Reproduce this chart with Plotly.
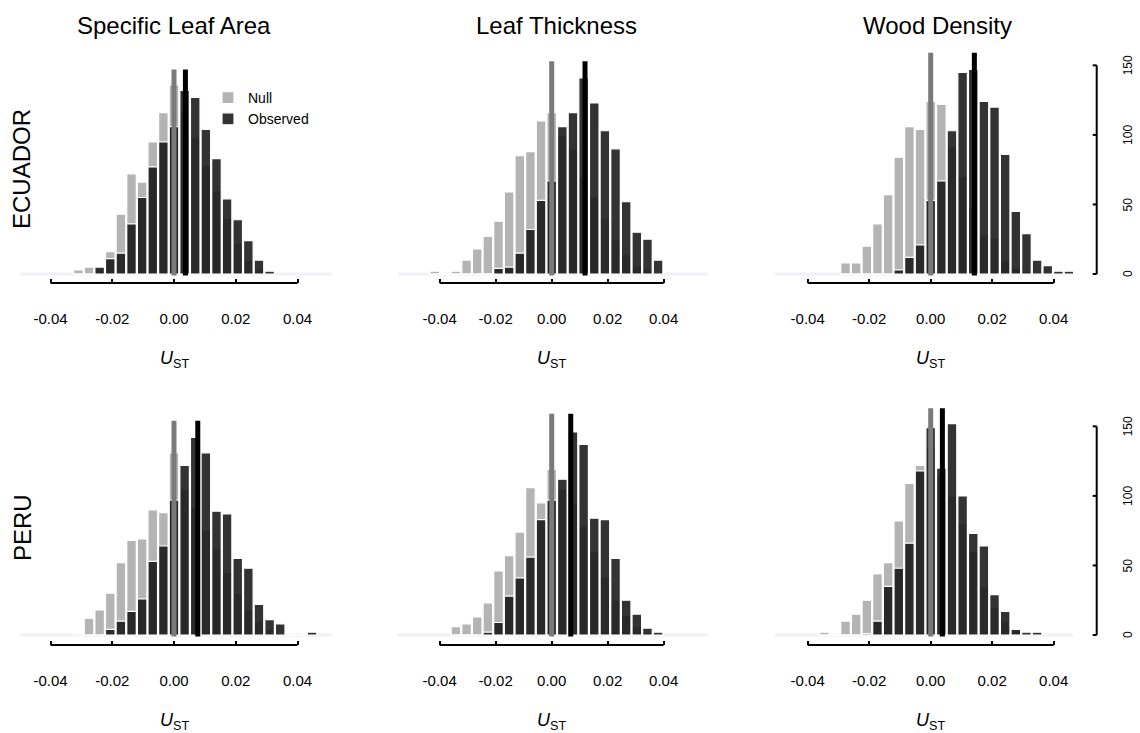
import plotly.graph_objects as go

# ---------------------------------------------------------------------------
# Data: U_ST histograms (counts per bin) for null and observed distributions
# ---------------------------------------------------------------------------
traits = ["Specific Leaf Area", "Leaf Thickness", "Wood Density"]
regions = ["ECUADOR", "PERU"]

# histogram bin width for each trait column (U_ST units); bins are centred on
# multiples of the width, starting at the panel's first bin index
bin_width = [0.00344, 0.0038, 0.00346]
first_bin = [-9, -11, -8, -9, -9, -10]   # panels: ECU SLA, ECU LT, ECU WD, PER SLA, PER LT, PER WD

null_ecu_sla = [3, 5, 4, 16, 43, 72, 66, 95, 116, 136, 118, 98, 78, 60, 40, 22, 10, 4, 1]
obs_ecu_sla = [0, 0, 5, 11, 15, 36, 55, 77, 95, 106, 132, 127, 104, 83, 54, 39, 24, 10, 2]

null_ecu_lt = [2, 0, 2, 10, 18, 27, 38, 59, 85, 88, 110, 116, 100, 90, 70, 56, 40, 25, 14, 6, 3, 1]
obs_ecu_lt = [0, 0, 0, 0, 0, 0, 4, 5, 15, 32, 53, 67, 106, 116, 141, 123, 103, 90, 52, 30, 25, 10]

null_ecu_wd = [8, 8, 20, 36, 57, 84, 106, 104, 124, 122, 92, 70, 48, 28, 26, 10, 4, 2, 0, 0, 0, 0]
obs_ecu_wd = [0, 0, 0, 0, 0, 3, 12, 21, 53, 67, 103, 145, 147, 124, 120, 86, 45, 29, 10, 6, 2, 2]

null_per_sla = [1, 12, 18, 30, 52, 68, 69, 90, 88, 131, 105, 92, 75, 62, 45, 30, 18, 10, 4, 1, 0, 0, 0]
obs_per_sla = [0, 0, 0, 4, 10, 17, 26, 53, 64, 97, 122, 142, 131, 89, 87, 55, 48, 22, 11, 8, 0, 0, 2]

null_per_lt = [6, 8, 13, 23, 46, 57, 74, 106, 95, 119, 105, 95, 78, 60, 42, 25, 14, 6, 2, 1]
obs_per_lt = [0, 0, 0, 2, 9, 28, 41, 56, 83, 97, 112, 146, 137, 84, 83, 55, 25, 15, 5, 2]

null_per_wd = [2, 0, 10, 15, 25, 44, 52, 82, 109, 122, 135, 115, 100, 80, 60, 35, 20, 10, 4, 1, 0]
obs_per_wd = [0, 0, 0, 0, 1, 10, 35, 48, 66, 118, 149, 120, 152, 100, 73, 64, 29, 17, 4, 2, 2]

null_counts = [null_ecu_sla, null_ecu_lt, null_ecu_wd, null_per_sla, null_per_lt, null_per_wd]
obs_counts = [obs_ecu_sla, obs_ecu_lt, obs_ecu_wd, obs_per_sla, obs_per_lt, obs_per_wd]

# mean U_ST of null and observed distributions, and reference-line heights
null_mean = [0.0, 0.0, 0.0, 0.0, 0.0, 0.0]
obs_mean = [0.0037, 0.0119, 0.0142, 0.0077, 0.0068, 0.0038]
line_top = [147, 153, 159, 154, 159, 163]

x_ticks = [-0.04, -0.02, 0.0, 0.02, 0.04]
x_tick_text = ["-0.04", "-0.02", "0.00", "0.02", "0.04"]
y_ticks = [0, 50, 100, 150]
y_tick_text = ["0", "50", "100", "150"]

# ---------------------------------------------------------------------------
# Page geometry (pixels)
# ---------------------------------------------------------------------------
W, H = 1140, 733
col_zero = [174.0, 551.7, 930.7]        # x pixel of U_ST = 0
col_ppu = [3087.5, 2800.0, 3075.0]      # pixels per U_ST unit
col_left = [20.0, 398.0, 775.0]
col_right = [332.0, 708.0, 1073.0]
row_zero = [274.0, 635.0]               # y pixel of count = 0
row_axis = [283.0, 645.0]               # y pixel of the x-axis line
row_top = [38.0, 398.0]
ppc = 1.391                             # pixels per count
yaxis_px = 1096.7                       # x pixel of the count axis
ylabel_px = 1128.0                      # x pixel of the count tick labels
tick_len = 4

FONT = "Liberation Sans, Arial, Helvetica, sans-serif"
NULL_COLOR = "#b4b4b4"
OBS_COLOR = "rgba(18,18,18,0.86)"

fig = go.Figure()
layout = dict(
    width=W, height=H,
    margin=dict(l=0, r=0, t=0, b=0),
    paper_bgcolor="white", plot_bgcolor="rgba(0,0,0,0)",
    barmode="overlay",
    font=dict(family=FONT, color="black"),
    showlegend=True,
    legend=dict(x=208 / W, y=1 - 82 / H, xanchor="left", yanchor="top",
                bgcolor="rgba(0,0,0,0)", font=dict(size=14, family=FONT),
                itemwidth=30, tracegroupgap=0),
)
shapes = []
annotations = []

for r in range(2):
    for c in range(3):
        p = r * 3 + c
        sfx = "" if p == 0 else str(p + 1)
        xa, ya = "x" + sfx, "y" + sfx
        w = bin_width[c]
        n_bins = len(null_counts[p])
        centres = [(first_bin[p] + i) * w for i in range(n_bins)]

        fig.add_trace(go.Bar(
            x=centres, y=null_counts[p], width=w * 0.9,
            marker=dict(color=NULL_COLOR, line=dict(color="white", width=1.2)),
            name="Null", legendgroup="null", showlegend=(p == 0),
            xaxis=xa, yaxis=ya, hoverinfo="skip"))
        fig.add_trace(go.Bar(
            x=centres, y=obs_counts[p], width=w * 0.9,
            marker=dict(color=OBS_COLOR, line=dict(color="white", width=1.2)),
            name="Observed", legendgroup="obs", showlegend=(p == 0),
            xaxis=xa, yaxis=ya, hoverinfo="skip"))

        # mean lines: null (grey) and observed (black)
        fig.add_trace(go.Scatter(
            x=[null_mean[p], null_mean[p]], y=[-1, line_top[p]], mode="lines",
            line=dict(color="#7a7a7a", width=5), showlegend=False,
            xaxis=xa, yaxis=ya, hoverinfo="skip"))
        fig.add_trace(go.Scatter(
            x=[obs_mean[p], obs_mean[p]], y=[-1, line_top[p]], mode="lines",
            line=dict(color="black", width=5), showlegend=False,
            xaxis=xa, yaxis=ya, hoverinfo="skip"))

        x_lo = (col_left[c] - col_zero[c]) / col_ppu[c]
        x_hi = (col_right[c] - col_zero[c]) / col_ppu[c]
        y_lo = (row_zero[r] - row_axis[r]) / ppc
        y_hi = (row_zero[r] - row_top[r]) / ppc
        y_dom = [1 - row_axis[r] / H, 1 - row_top[r] / H]

        layout["xaxis" + sfx] = dict(
            domain=[col_left[c] / W, col_right[c] / W], range=[x_lo, x_hi],
            anchor=ya, showgrid=False, zeroline=False, showline=False,
            tickmode="array", tickvals=x_ticks, ticktext=x_tick_text,
            ticks="inside", ticklen=tick_len, tickwidth=2, tickcolor="black",
            tickfont=dict(size=15, family=FONT), ticklabelstandoff=25,
            fixedrange=True)

        layout["yaxis" + sfx] = dict(
            domain=y_dom, range=[y_lo, y_hi],
            anchor=xa, visible=False, fixedrange=True)

        if c == 2:
            # count axis right of the panel: an invisible pixel-scaled x axis
            # spanning the page, sharing this row's count scale
            k = 7 + r
            pxa, pya = "x%d" % k, "y%d" % k
            layout["xaxis%d" % k] = dict(domain=[0, 1], range=[0, W], anchor=pya,
                                         visible=False, fixedrange=True)
            layout["yaxis%d" % k] = dict(domain=y_dom, range=[y_lo, y_hi], anchor=pxa,
                                         visible=False, fixedrange=True)
            fig.add_trace(go.Scatter(
                x=[yaxis_px, yaxis_px], y=[y_ticks[0], y_ticks[-1]], mode="lines",
                line=dict(color="black", width=2), showlegend=False,
                xaxis=pxa, yaxis=pya, hoverinfo="skip"))
            for v in y_ticks:
                fig.add_trace(go.Scatter(
                    x=[yaxis_px - tick_len, yaxis_px], y=[v, v], mode="lines",
                    line=dict(color="black", width=2), showlegend=False,
                    xaxis=pxa, yaxis=pya, hoverinfo="skip"))
            for v, t in zip(y_ticks, y_tick_text):
                annotations.append(dict(
                    x=ylabel_px, xref=pxa, y=v, yref=pya, text=t,
                    showarrow=False, textangle=-90, font=dict(size=12, family=FONT),
                    xanchor="center", yanchor="middle"))

        # faint baseline under the bars and the R-style x-axis line
        shapes.append(dict(type="line", xref=xa + " domain", yref=ya,
                           x0=0, x1=1, y0=0, y1=0, layer="below",
                           line=dict(color="#f0f0f5", width=3)))
        shapes.append(dict(type="line", xref=xa, yref=ya + " domain",
                           x0=x_ticks[0], x1=x_ticks[-1], y0=0, y1=0,
                           line=dict(color="black", width=2)))

        # axis title
        annotations.append(dict(
            x=col_zero[c] / W, y=1 - (row_axis[r] + 76) / H,
            xref="paper", yref="paper", showarrow=False,
            text="<i>U</i><sub>ST</sub>", font=dict(size=18, family=FONT),
            xanchor="center", yanchor="middle"))

# trait titles
title_x = [174, 556, 937]
for c, t in enumerate(traits):
    annotations.append(dict(x=title_x[c] / W, y=1 - 25 / H, xref="paper", yref="paper",
                            text=t, showarrow=False, font=dict(size=24, family=FONT),
                            xanchor="center", yanchor="middle"))

# region labels
region_y = [169, 528]
for r, t in enumerate(regions):
    annotations.append(dict(x=22 / W, y=1 - region_y[r] / H, xref="paper", yref="paper",
                            text=t, showarrow=False, textangle=-90,
                            font=dict(size=24, family=FONT),
                            xanchor="center", yanchor="middle"))

layout["shapes"] = shapes
layout["annotations"] = annotations
fig.update_layout(**layout)
fig.write_html("out.html")
